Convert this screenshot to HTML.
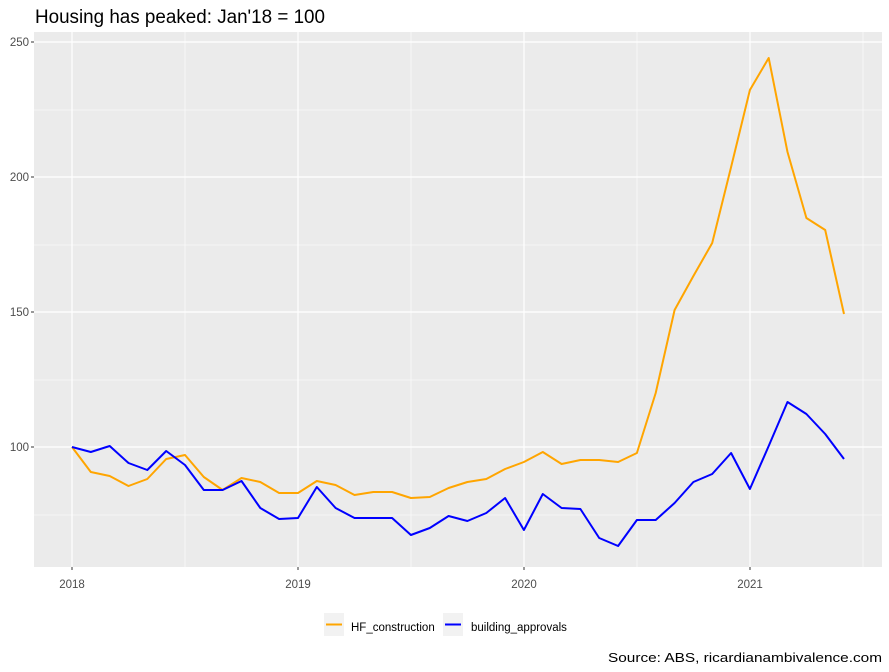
<!DOCTYPE html>
<html><head><meta charset="utf-8"><style>body{margin:0;background:#fff}svg{display:block}text{font-family:"Liberation Sans",Arial,sans-serif}</style></head><body>
<svg width="889" height="672" viewBox="0 0 889 672">
<rect width="889" height="672" fill="#fff"/>
<text x="35" y="23" font-size="19" fill="#000" textLength="290" lengthAdjust="spacingAndGlyphs">Housing has peaked: Jan'18 = 100</text>
<rect x="34" y="32" width="848" height="535" fill="#EBEBEB"/>
<g stroke="#fff" stroke-width="0.6">
<line x1="34" x2="882" y1="110" y2="110"/><line x1="34" x2="882" y1="245" y2="245"/><line x1="34" x2="882" y1="380" y2="380"/><line x1="34" x2="882" y1="515" y2="515"/>
<line y1="32" y2="567" x1="185" x2="185"/><line y1="32" y2="567" x1="411" x2="411"/><line y1="32" y2="567" x1="637" x2="637"/><line y1="32" y2="567" x1="863" x2="863"/>
</g>
<g stroke="#fff" stroke-width="1.2">
<line x1="34" x2="882" y1="42" y2="42"/><line x1="34" x2="882" y1="177" y2="177"/><line x1="34" x2="882" y1="312" y2="312"/><line x1="34" x2="882" y1="447" y2="447"/>
<line y1="32" y2="567" x1="72" x2="72"/><line y1="32" y2="567" x1="298" x2="298"/><line y1="32" y2="567" x1="524" x2="524"/><line y1="32" y2="567" x1="750" x2="750"/>
</g>
<g stroke="#333" stroke-width="1">
<line x1="31" x2="34" y1="42" y2="42"/><line x1="31" x2="34" y1="177" y2="177"/><line x1="31" x2="34" y1="312" y2="312"/><line x1="31" x2="34" y1="447" y2="447"/>
<line y1="567" y2="570" x1="72" x2="72"/><line y1="567" y2="570" x1="298" x2="298"/><line y1="567" y2="570" x1="524" x2="524"/><line y1="567" y2="570" x1="750" x2="750"/>
</g>
<g font-size="11.5" fill="#4D4D4D" text-anchor="end">
<text x="29" y="46">250</text><text x="29" y="181">200</text><text x="29" y="316">150</text><text x="29" y="451">100</text>
</g>
<g font-size="11.5" fill="#4D4D4D" text-anchor="middle">
<text x="72" y="588">2018</text><text x="298" y="588">2019</text><text x="524" y="588">2020</text><text x="750" y="588">2021</text>
</g>
<polyline fill="none" stroke="#FFA500" stroke-width="2" stroke-linejoin="round" points="72.0,447 90.8,472 109.7,476 128.5,486 147.3,479 166.2,459 185.0,455 203.8,477 222.6,490 241.5,478 260.3,482 279.1,493 298.0,493 316.8,481 335.6,485 354.5,495 373.3,492 392.1,492 410.9,498 429.8,497 448.6,488 467.4,482 486.3,479 505.1,469 523.9,462 542.8,452 561.6,464 580.4,460 599.2,460 618.1,462 636.9,453 655.7,393 674.6,310 693.4,276 712.2,243 731.1,167 749.9,90 768.7,58 787.5,152 806.4,218 825.2,230 844.0,314"/>
<polyline fill="none" stroke="#0000FF" stroke-width="2" stroke-linejoin="round" points="72.0,447 90.8,452 109.7,446 128.5,463 147.3,470 166.2,451 185.0,465 203.8,490 222.6,490 241.5,481 260.3,508 279.1,519 298.0,518 316.8,487 335.6,508 354.5,518 373.3,518 392.1,518 410.9,535 429.8,528 448.6,516 467.4,521 486.3,513 505.1,498 523.9,530 542.8,494 561.6,508 580.4,509 599.2,538 618.1,546 636.9,520 655.7,520 674.6,503 693.4,482 712.2,474 731.1,453 749.9,489 768.7,446 787.5,402 806.4,414 825.2,434 844.0,459"/>
<rect x="324" y="613" width="20" height="23" fill="#F2F2F2"/>
<line x1="326" x2="342" y1="624.5" y2="624.5" stroke="#FFA500" stroke-width="2"/>
<text x="351" y="631" font-size="11.5" fill="#000">HF_construction</text>
<rect x="443" y="613" width="20" height="23" fill="#F2F2F2"/>
<line x1="445" x2="461" y1="624.5" y2="624.5" stroke="#0000FF" stroke-width="2"/>
<text x="471" y="631" font-size="11.5" fill="#000">building_approvals</text>
<text x="608" y="662" font-size="13" fill="#000" textLength="274" lengthAdjust="spacingAndGlyphs">Source: ABS, ricardianambivalence.com</text>
</svg>
</body></html>
